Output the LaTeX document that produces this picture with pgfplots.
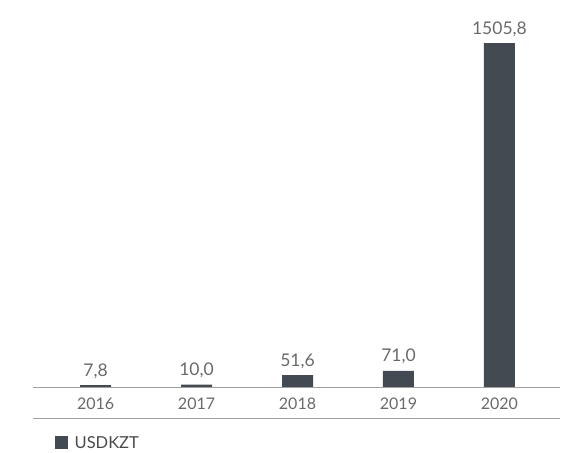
\documentclass[border=0pt]{standalone}
\usepackage{fontspec}
\setmainfont{Lato}
\usepackage{pgfplots}
\usepackage{pgfplotstable}
\pgfplotsset{compat=1.18}

\definecolor{barcol}{HTML}{434A52}
\definecolor{txtcol}{HTML}{6A6A6A}
\definecolor{linecol}{HTML}{A0A0A0}

\pgfplotstableread{
x y lab
0 7.8 7,8
1 10.0 10,0
2 51.6 51,6
3 71.0 71,0
4 1505.8 1505,8
}\usdkzt

\begin{document}
\begin{tikzpicture}
\useasboundingbox (0,0) rectangle (566pt,453pt);
\begin{axis}[
  at={(33pt,66pt)}, anchor=south west,
  scale only axis,
  width=527pt, height=380pt,
  xmin=-0.62, xmax=4.6,
  ymin=0, ymax=1663.4,
  axis x line*=bottom,
  axis y line=none,
  axis line style={linecol, line width=0.9pt},
  xtick=data,
  xticklabels={2016,2017,2018,2019,2020},
  major tick length=0pt,
  xticklabel style={txtcol, font=\fontsize{16}{19}\selectfont, yshift=-7pt},
  /pgf/number format/assume math mode=true,
  ybar, bar width=31pt,
  nodes near coords,
  point meta=explicit symbolic,
  nodes near coords style={txtcol, font=\fontsize{17.5}{20}\selectfont, yshift=3pt},
  legend style={at={(0.035,0)}, anchor=west, yshift=-56pt, draw=none, fill=none,
    font=\fontsize{16.5}{19}\selectfont, text=txtcol!70!black},
  legend image code/.code={\fill[barcol] (4pt,-6pt) rectangle (17pt,7pt);
    \path (22pt,0pt);},
  clip=false,
]
\addplot[fill=barcol, draw=none] table[x=x, y=y, meta=lab] {\usdkzt};
\addlegendentry{USDKZT}
\draw[linecol, line width=0.9pt] ([yshift=-31pt]rel axis cs:0,0) -- ([yshift=-31pt]rel axis cs:1,0);
\end{axis}
\end{tikzpicture}
\end{document}
